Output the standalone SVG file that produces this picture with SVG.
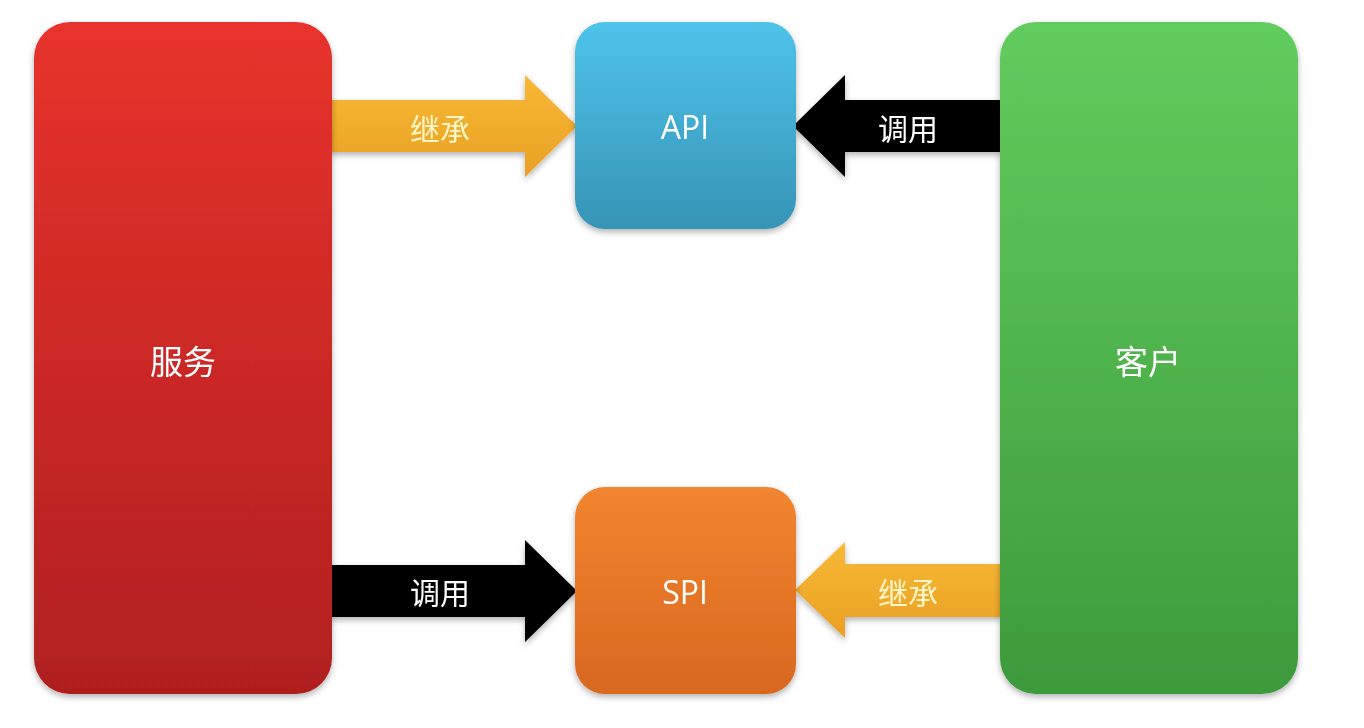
<svg xmlns="http://www.w3.org/2000/svg" width="1364" height="728" viewBox="0 0 1364 728">
<style>
.lbl{font-family:"Noto Sans CJK SC","Liberation Sans",sans-serif;fill:#ffffff;text-anchor:middle;dominant-baseline:central}
.big{font-size:33px}
.en{font-family:"Open Sans","Liberation Sans",sans-serif;font-size:32px;fill:#ffffff;text-anchor:middle;dominant-baseline:central}
.arr{font-size:30px}
.yl{fill:#fff6c8}
</style>
<defs>
<linearGradient id="gRed" x1="0" y1="0" x2="0" y2="1"><stop offset="0" stop-color="#e8322d"/><stop offset="1" stop-color="#b01f1f"/></linearGradient>
<linearGradient id="gBlue" x1="0" y1="0" x2="0" y2="1"><stop offset="0" stop-color="#4fc3ea"/><stop offset="1" stop-color="#3694b6"/></linearGradient>
<linearGradient id="gOrange" x1="0" y1="0" x2="0" y2="1"><stop offset="0" stop-color="#f28530"/><stop offset="1" stop-color="#d8681f"/></linearGradient>
<linearGradient id="gGreen" x1="0" y1="0" x2="0" y2="1"><stop offset="0" stop-color="#62cc5e"/><stop offset="1" stop-color="#3d9a3b"/></linearGradient>
<linearGradient id="gArrow" x1="0" y1="0" x2="0" y2="1"><stop offset="0" stop-color="#f7b935"/><stop offset="1" stop-color="#e9a024"/></linearGradient>
<filter id="sh" x="-10%" y="-10%" width="120%" height="125%"><feDropShadow dx="0" dy="3" stdDeviation="3" flood-color="#000" flood-opacity="0.3"/></filter>
</defs>
<rect width="1364" height="728" fill="#ffffff"/>
<g id="connectors">
<g id="inherit-api" filter="url(#sh)">
<polygon points="330,100 525,100 525,75 577,126 525,177 525,152 330,152" fill="url(#gArrow)"/>
<text class="lbl arr yl" x="440" y="127">继承</text>
</g>
<g id="call-api" filter="url(#sh)">
<polygon points="1002,100 845,100 845,75 793,126 845,177 845,152 1002,152" fill="#000000"/>
<text class="lbl arr" x="908" y="127">调用</text>
</g>
<g id="call-spi" filter="url(#sh)">
<polygon points="330,565 525,565 525,540 577,591 525,642 525,617 330,617" fill="#000000"/>
<text class="lbl arr" x="440" y="591">调用</text>
</g>
<g id="inherit-spi" filter="url(#sh)">
<polygon points="1002,564 845,564 845,542 795,590 845,638 845,617 1002,617" fill="url(#gArrow)"/>
<text class="lbl arr yl" x="908" y="591">继承</text>
</g>
</g>
<g id="service" filter="url(#sh)">
<rect x="34" y="22" width="298" height="672" rx="36" fill="url(#gRed)"/>
<text class="lbl big" x="183" y="360">服务</text>
</g>
<g id="api" filter="url(#sh)">
<rect x="575" y="22" width="221" height="207" rx="30" fill="url(#gBlue)"/>
<text class="en" x="685" y="126">API</text>
</g>
<g id="spi" filter="url(#sh)">
<rect x="575" y="487" width="221" height="207" rx="30" fill="url(#gOrange)"/>
<text class="en" x="685" y="591">SPI</text>
</g>
<g id="client" filter="url(#sh)">
<rect x="1000" y="22" width="298" height="672" rx="36" fill="url(#gGreen)"/>
<text class="lbl big" x="1148" y="360">客户</text>
</g>
</svg>
